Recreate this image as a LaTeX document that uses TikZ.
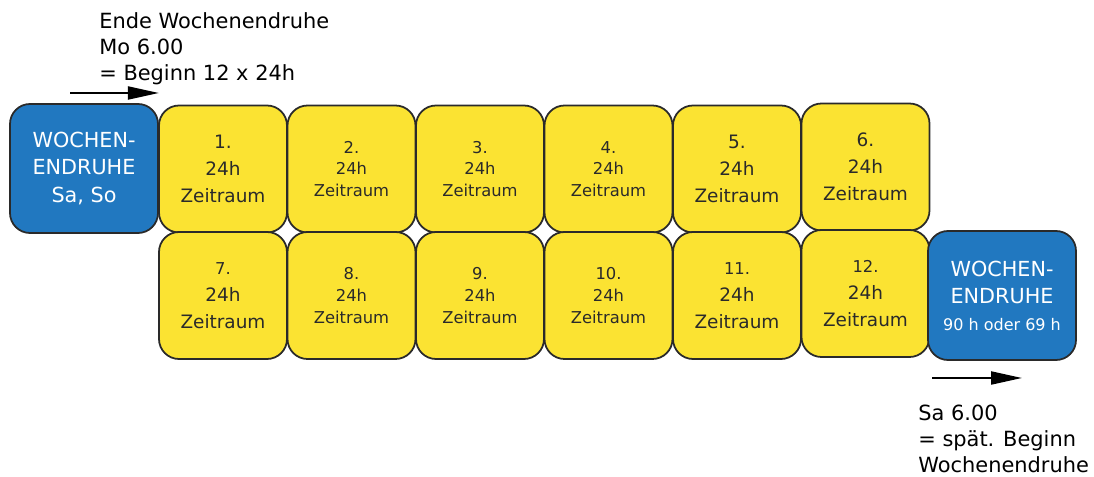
\documentclass[tikz,border=0pt]{standalone}
\usepackage{fontspec}
\setmainfont{DejaVu Sans}
\usetikzlibrary{arrows.meta}
\definecolor{ruhe}{HTML}{2178C0}
\definecolor{tag}{HTML}{FBE332}
\definecolor{rand}{HTML}{2A2A2A}
\newcommand{\gr}{\fontsize{10.5}{15.4}\selectfont}
\newcommand{\kl}{\fontsize{9.3}{12.4}\selectfont}

\begin{document}
\begin{tikzpicture}[
    tagbox/.style={draw=rand, fill=tag, line width=1pt, rounded corners=0.4cm,
      minimum width=2.56cm, minimum height=2.54cm, align=center, text=rand, inner sep=0pt},
    ruhebox/.style={tagbox, fill=ruhe, text=white, minimum width=2.96cm, minimum height=2.58cm,
      font=\fontsize{11.8}{15.4}\selectfont},
    pfeil/.style={-{Triangle[length=0.62cm, width=0.26cm]}, line width=1.2pt},
    notiz/.style={align=left, anchor=north west, inner sep=0pt,
      font=\fontsize{11.9}{14.8}\selectfont}]
  \useasboundingbox (0,0) rectangle (21.88,-9.54);

  \node[ruhebox] (wrL) at (1.68,-3.37) {WOCHEN-\\ENDRUHE\\Sa, So};

  \node[tagbox, font=\gr] (t1) at (4.46,-3.38) {1.\\24h\\Zeitraum};
  \node[tagbox, font=\kl] (t2) at (7.03,-3.38) {2.\\24h\\Zeitraum};
  \node[tagbox, font=\kl] (t3) at (9.60,-3.38) {3.\\24h\\Zeitraum};
  \node[tagbox, font=\kl] (t4) at (12.17,-3.38) {4.\\24h\\Zeitraum};
  \node[tagbox, font=\gr] (t5) at (14.74,-3.38) {5.\\24h\\Zeitraum};
  \node[tagbox, font=\gr] (t6) at (17.31,-3.34) {6.\\24h\\Zeitraum};

  \node[tagbox, font=\gr] (t7) at (4.46,-5.91) {{\kl 7.}\\24h\\Zeitraum};
  \node[tagbox, font=\kl] (t8) at (7.03,-5.91) {8.\\24h\\Zeitraum};
  \node[tagbox, font=\kl] (t9) at (9.60,-5.91) {9.\\24h\\Zeitraum};
  \node[tagbox, font=\kl] (t10) at (12.17,-5.91) {10.\\24h\\Zeitraum};
  \node[tagbox, font=\gr] (t11) at (14.74,-5.91) {{\kl 11.}\\24h\\Zeitraum};
  \node[tagbox, font=\gr] (t12) at (17.31,-5.87) {{\kl 12.}\\24h\\Zeitraum};

  \node[ruhebox] (wrR) at (20.04,-5.91)
    {WOCHEN-\\ENDRUHE\\{\fontsize{9.1}{12}\selectfont 90 h oder 69 h}};

  \node[notiz] (ende) at (1.98,-0.24)
    {Ende Wochenendruhe\\Mo 6.00\\= Beginn 12 x 24h};
  \node[notiz] (spaet) at (18.36,-8.10)
    {Sa 6.00\\= spät. Beginn\\Wochenendruhe};

  \coordinate (p1) at (1.40,-1.86);
  \coordinate (p2) at (18.64,-7.56);
  \draw[pfeil] (p1) -- (p1 -| wrL.east);
  \draw[pfeil] (p2) -- ++(1.8,0);
\end{tikzpicture}
\end{document}
